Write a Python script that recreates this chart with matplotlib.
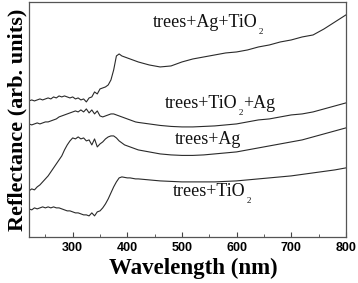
import numpy as np
import matplotlib
matplotlib.use('Agg')
import matplotlib.pyplot as plt
from matplotlib.ticker import MultipleLocator

# wavelength grid (nm): dense in the noisy UV part, coarse above 420 nm
wavelength = list(range(220, 425, 5)) + list(range(440, 820, 20))

ag_tio2 = [136, 137, 136, 137, 138, 137, 138, 139, 138, 140, 139, 141, 140, 141, 140, 139, 140,
           138, 139, 137, 138, 135, 139, 140, 145, 143, 148, 149, 150, 152, 157, 167, 181, 183,
           181, 180, 179, 178, 177, 176, 175,
           172, 170, 171, 175, 178, 180, 182, 184, 185, 187, 190, 192, 195, 197, 200, 202, 208,
           215, 222]
tio2_ag = [113, 112, 113, 114, 113, 114, 115, 115, 116, 117, 118, 120, 121, 122, 123, 124, 125,
           126, 125, 127, 125, 128, 124, 127, 123, 126, 121, 120, 121, 122, 123, 123, 122, 121,
           120, 119, 118, 117, 116, 115, 114.5,
           113, 111.5, 110.5, 110, 110, 110.5, 111, 112, 113, 115, 117, 118, 120, 122, 123, 125,
           128, 131, 134]
ag_only = [46, 48, 47, 50, 52, 55, 58, 61, 65, 69, 73, 77, 81, 87, 92, 96, 99, 98, 100, 98, 99,
           96, 97, 92, 98, 90, 93, 95, 98, 100, 101, 101, 99, 96, 94, 92, 91, 90, 89, 88, 87,
           85, 83, 82, 81.5, 81.5, 82, 83, 84, 85, 87, 89, 91, 93, 95, 97, 100, 103, 106, 109]
tio2_only = [28, 27, 29, 28, 29, 30, 29, 30, 29, 30, 29, 29, 28, 27, 26, 26, 25, 24, 24, 23, 22,
             22, 21, 24, 21, 25, 26, 29, 33, 38, 44, 50, 55, 59, 60, 59.5, 59, 59, 58.5, 58, 58,
             57, 56, 55.5, 55, 55, 55, 55, 55.5, 56, 57, 58, 59, 60, 61, 62.5, 64, 65.5, 67, 69]

# label pieces: (text before subscript, subscript, text after)
labels = [('trees+Ag+TiO', '2', ''), ('trees+TiO', '2', '+Ag'),
          ('trees+Ag', '', ''), ('trees+TiO', '2', '')]
label_pos = [(447, 210), (469, 129), (487, 93), (483, 41)]

fig = plt.figure(figsize=(3.58, 2.83), dpi=100)
ax = fig.add_axes([0.081, 0.163, 0.885, 0.830])

for ys in (ag_tio2, tio2_ag, ag_only, tio2_only):
    ax.plot(wavelength, ys, color='#2a2a2a', lw=0.8)

serif = 'Liberation Serif'
for (head, sub, tail), (x, y) in zip(labels, label_pos):
    t = ax.text(x, y, head, family=serif, fontsize=13, color='#111111', va='baseline')
    if sub:
        ax.annotate(sub, xy=(1, 0), xycoords=t, xytext=(0.8, -0.8), textcoords='offset points',
                    family=serif, fontsize=6.5, color='#111111', ha='left', va='center')
    if tail:
        ax.annotate(tail, xy=(1, 0), xycoords=t, xytext=(4.2, 0), textcoords='offset points',
                    family=serif, fontsize=13, color='#111111', ha='left', va='bottom')

ax.set_xlim(220, 800)
ax.set_ylim(0, 235)
ax.xaxis.set_major_locator(MultipleLocator(100))
ax.xaxis.set_minor_locator(MultipleLocator(50))
ax.set_yticks([])
ax.tick_params(axis='x', which='both', direction='in', top=False, color='#444444')
ax.tick_params(axis='x', which='major', length=3.5, labelsize=9, pad=4)
ax.tick_params(axis='x', which='minor', length=2)
for lab in ax.get_xticklabels():
    lab.set_family('Liberation Sans')
    lab.set_fontweight('bold')
for sp in ax.spines.values():
    sp.set_color('#555555')
    sp.set_linewidth(0.9)

ax.set_xlabel('Wavelength (nm)', family=serif, fontweight='bold', fontsize=16.5, labelpad=1)
ax.xaxis.set_label_coords(0.52, -0.09)
ax.set_ylabel('Reflectance (arb. units)', family=serif, fontweight='bold', fontsize=16,
              labelpad=1)

fig.savefig('out.png', dpi=100)
